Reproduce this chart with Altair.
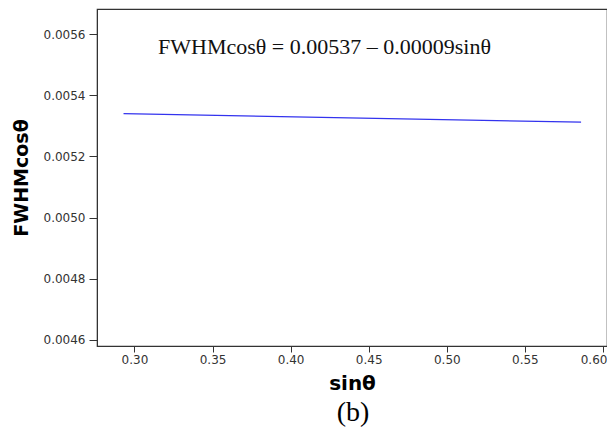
import altair as alt
import pandas as pd

# data
sin_theta = [0.293, 0.586]
fwhm_cos = [0.005340, 0.005312]
equation = "FWHMcosθ = 0.00537 – 0.00009sinθ"
panel_label = "(b)"
x_ticks = [0.30, 0.35, 0.40, 0.45, 0.50, 0.55, 0.60]
y_ticks = [0.0046, 0.0048, 0.0050, 0.0052, 0.0054, 0.0056]

df = pd.DataFrame({"x": sin_theta, "y": fwhm_cos})

W, H = 510, 337

x_enc = alt.X("x:Q", scale=alt.Scale(domain=[0.276, 0.6026], nice=False, zero=False),
              axis=alt.Axis(values=x_ticks, format=".2f", title="sinθ", grid=False,
                            labelFont="DejaVu Sans", labelFontSize=12, labelColor="#333",
                            labelFlush=6, labelFlushOffset=4,
                            titleFont="DejaVu Sans", titleFontSize=20, titleFontWeight="bold",
                            titleColor="#000", titlePadding=8, tickSize=6,
                            domainColor="#333", tickColor="#333"))
y_enc = alt.Y("y:Q", scale=alt.Scale(domain=[0.00458, 0.005682], nice=False, zero=False),
              axis=alt.Axis(values=y_ticks, format=".4f", title="FWHMcosθ", grid=False,
                            labelFont="DejaVu Sans", labelFontSize=12, labelColor="#333",
                            labelPadding=4, titleFont="DejaVu Sans", titleFontSize=19,
                            titleFontWeight="bold", titleColor="#000", titlePadding=12,
                            tickSize=8, domainColor="#333", tickColor="#333"))

line = alt.Chart(df).mark_line(color="#3333ee", strokeWidth=1.3).encode(x=x_enc, y=y_enc)

eq = alt.Chart(pd.DataFrame({"t": [equation]})).mark_text(
    font="Liberation Serif", fontSize=22, align="left", baseline="middle", color="#111"
).encode(x=alt.value(61), y=alt.value(38), text="t:N")

lab = alt.Chart(pd.DataFrame({"t": [panel_label]})).mark_text(
    font="Liberation Serif", fontSize=28, align="center", baseline="middle", color="#000"
).encode(x=alt.value(256), y=alt.value(H + 67), text="t:N")

chart = alt.layer(line, eq, lab).properties(
    width=W, height=H,
    autosize=alt.AutoSizeParams(type="none"),
    padding={"left": 89, "top": 1, "right": 0, "bottom": 84},
).configure_view(stroke="#333", strokeWidth=1.2)

chart.save("out.html", embed_options={"renderer": "svg", "actions": False})
